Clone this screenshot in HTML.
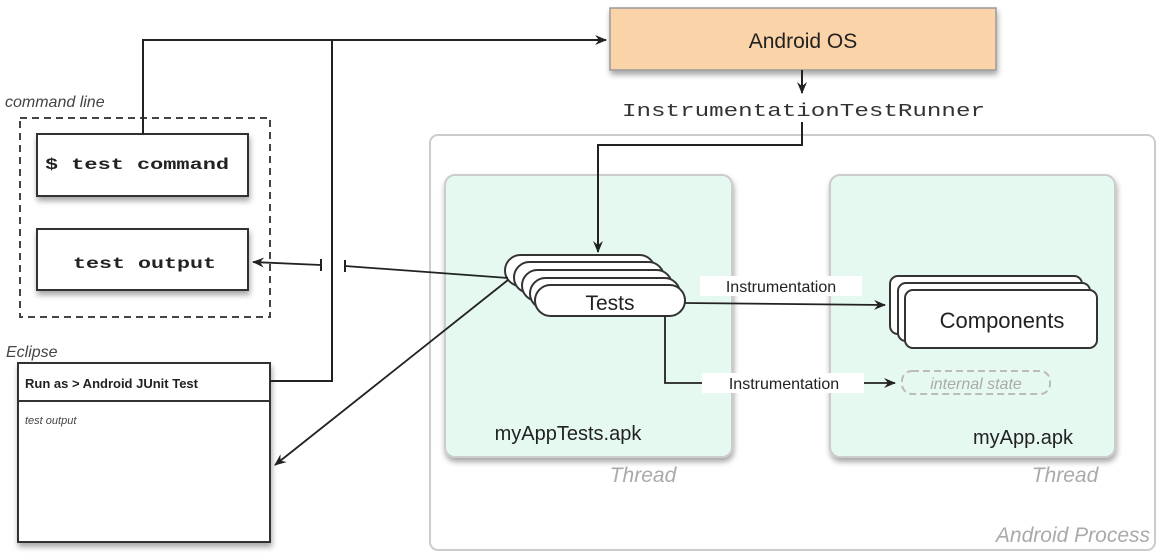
<!DOCTYPE html>
<html><head><meta charset="utf-8"><style>
html,body{margin:0;padding:0;background:#fff;width:1164px;height:555px;overflow:hidden}
svg{display:block}
text{font-family:"Liberation Sans",sans-serif}
.mono{font-family:"Liberation Mono",monospace;font-weight:bold}
.monon{font-family:"Liberation Mono",monospace;font-weight:normal}
</style></head><body>
<svg width="1164" height="555" viewBox="0 0 1164 555" xmlns="http://www.w3.org/2000/svg">
<defs>
<marker id="a" markerWidth="12" markerHeight="10" refX="11" refY="5" orient="auto" markerUnits="userSpaceOnUse"><path d="M0,0 L12,5 L0,10 L4,5 z" fill="#222"/></marker>
<filter id="sh" x="-10%" y="-10%" width="130%" height="140%"><feDropShadow dx="1" dy="4" stdDeviation="3" flood-color="#000" flood-opacity="0.35"/></filter>
</defs>
<rect x="430" y="135" width="725" height="415" rx="8" fill="#fff" stroke="#ccc" stroke-width="2"/>
<text x="1150" y="542" font-size="21" font-style="italic" fill="#aaa" text-anchor="end">Android Process</text>
<rect x="445" y="175" width="287" height="282" rx="10" fill="#e6f9f1" stroke="#ccc" stroke-width="2" filter="url(#sh)"/>
<rect x="830" y="175" width="285" height="282" rx="10" fill="#e6f9f1" stroke="#ccc" stroke-width="2" filter="url(#sh)"/>
<text x="643" y="482" font-size="21" font-style="italic" fill="#aaa" text-anchor="middle">Thread</text>
<text x="1065" y="482" font-size="21" font-style="italic" fill="#aaa" text-anchor="middle">Thread</text>
<text x="568" y="440" font-size="20" fill="#222" text-anchor="middle">myAppTests.apk</text>
<text x="1023" y="444" font-size="20" fill="#222" text-anchor="middle">myApp.apk</text>
<rect x="610" y="8" width="386" height="62" fill="#fbd3a8" stroke="#999" stroke-width="1.5" filter="url(#sh)"/>
<text x="803" y="48" font-size="21" fill="#222" text-anchor="middle">Android OS</text>
<line x1="802" y1="70" x2="802" y2="93" stroke="#222" stroke-width="2" marker-end="url(#a)"/>
<text x="622" y="116" class="monon" font-size="18" fill="#333" textLength="363" lengthAdjust="spacingAndGlyphs">InstrumentationTestRunner</text>
<polyline points="802,122 802,145 598,145 598,252" fill="none" stroke="#222" stroke-width="2" marker-end="url(#a)"/>
<g fill="#fff" stroke="#333" stroke-width="2">
<rect x="505" y="255" width="150" height="31" rx="15.5"/>
<rect x="514" y="262" width="150" height="31" rx="15.5"/>
<rect x="522" y="270" width="150" height="31" rx="15.5"/>
<rect x="530" y="278" width="150" height="31" rx="15.5"/>
<rect x="535" y="285" width="150" height="31" rx="15.5"/>
</g>
<text x="610" y="310" font-size="21" fill="#222" text-anchor="middle">Tests</text>
<g fill="#fff" stroke="#333" stroke-width="2">
<rect x="890" y="276" width="192" height="58" rx="8"/>
<rect x="898" y="283" width="192" height="58" rx="8"/>
<rect x="905" y="290" width="192" height="58" rx="8"/>
</g>
<text x="1002" y="328" font-size="22" fill="#222" text-anchor="middle">Components</text>
<line x1="685" y1="303" x2="885" y2="305" stroke="#222" stroke-width="1.8" marker-end="url(#a)"/>
<rect x="700" y="276" width="162" height="20" fill="#fff"/>
<text x="781" y="292" font-size="16" fill="#222" text-anchor="middle">Instrumentation</text>
<polyline points="665,316 665,383 895,383" fill="none" stroke="#222" stroke-width="1.8" marker-end="url(#a)"/>
<rect x="702" y="373" width="162" height="20" fill="#fff"/>
<text x="784" y="389" font-size="16" fill="#222" text-anchor="middle">Instrumentation</text>
<rect x="902" y="371" width="148" height="23" rx="10" fill="none" stroke="#bbb" stroke-width="2" stroke-dasharray="7,4"/>
<text x="976" y="389" font-size="16" font-style="italic" fill="#aaa" text-anchor="middle">internal state</text>
<text x="5" y="107" font-size="16" font-style="italic" fill="#444">command line</text>
<rect x="20" y="118" width="250" height="199" fill="none" stroke="#444" stroke-width="2" stroke-dasharray="7,5"/>
<rect x="37" y="134" width="211" height="62" fill="#fff" stroke="#333" stroke-width="2" filter="url(#sh)"/>
<text x="45" y="169" class="mono" font-size="16" fill="#222" textLength="184" lengthAdjust="spacingAndGlyphs">$ test command</text>
<rect x="37" y="229" width="211" height="61" fill="#fff" stroke="#333" stroke-width="2" filter="url(#sh)"/>
<text x="73" y="268" class="mono" font-size="16" fill="#222" textLength="143" lengthAdjust="spacingAndGlyphs">test output</text>
<text x="6" y="357" font-size="16" font-style="italic" fill="#444">Eclipse</text>
<rect x="18" y="363" width="252" height="179" fill="#fff" stroke="#333" stroke-width="2" filter="url(#sh)"/>
<line x1="18" y1="401" x2="270" y2="401" stroke="#333" stroke-width="2"/>
<text x="25" y="388" font-size="13" font-weight="bold" fill="#222">Run as &gt; Android JUnit Test</text>
<text x="25" y="424" font-size="11" font-style="italic" fill="#444">test output</text>
<polyline points="143,134 143,40 606,40" fill="none" stroke="#222" stroke-width="2" marker-end="url(#a)"/>
<polyline points="270,381 332,381 332,40" fill="none" stroke="#222" stroke-width="2"/>
<line x1="321" y1="265" x2="253" y2="262" stroke="#222" stroke-width="1.8" marker-end="url(#a)"/>
<line x1="321" y1="259" x2="321" y2="271" stroke="#222" stroke-width="2"/>
<line x1="345" y1="266" x2="508" y2="278" stroke="#222" stroke-width="1.8"/>
<line x1="345" y1="260" x2="345" y2="272" stroke="#222" stroke-width="2"/>
<line x1="508" y1="280" x2="275" y2="465" stroke="#222" stroke-width="1.8" marker-end="url(#a)"/>
</svg>
</body></html>
